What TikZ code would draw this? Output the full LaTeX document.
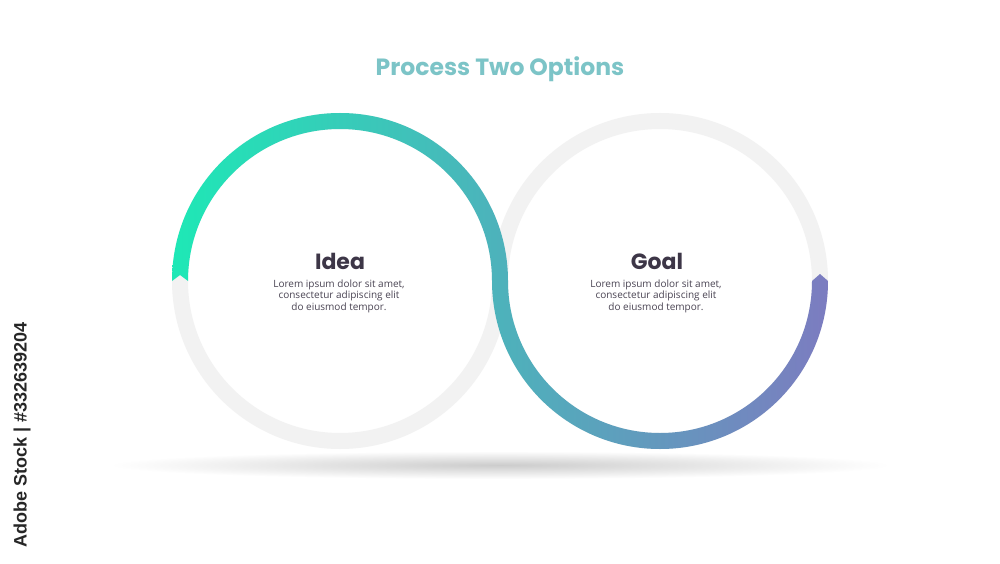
\documentclass[tikz,border=0pt]{standalone}
\usepackage{fontspec}
\setmainfont{Open Sans}
\newfontfamily\headfont{Poppins}
\newfontfamily\markfont{Liberation Sans}
\definecolor{ringgray}{RGB}{242,242,242}
\definecolor{titlecol}{RGB}{124,196,199}
\definecolor{headcol}{RGB}{61,54,71}
\definecolor{bodycol}{RGB}{74,68,83}
\definecolor{gA}{RGB}{30,232,182}
\definecolor{gB}{RGB}{66,172,185}
\definecolor{gC}{RGB}{124,124,192}
\begin{document}
\begin{tikzpicture}[x=1pt,y=1pt,
  ring/.style={draw=ringgray,line width=16pt},
  headtxt/.style={font=\headfont\bfseries\fontsize{22}{24}\selectfont,text=headcol},
  bodytxt/.style={font=\fontsize{10}{11.5}\selectfont,text=bodycol,align=center},
  titletxt/.style={font=\headfont\bfseries\fontsize{23.5}{26}\selectfont,text=titlecol}]
\useasboundingbox (0,0) rectangle (1000,563);
\fill[white] (0,0) rectangle (1000,563);
% shadow
\shade[inner color=black!20,outer color=white] (500,98) ellipse (390 and 14);
% background rings
\coordinate (cl) at (340,282);
\coordinate (cr) at (660,282);
\draw[ring] (cl) circle (160);
\draw[ring] (cr) circle (160);
% coloured path
\begin{scope}
\clip (172,282) arc[start angle=180,end angle=0,radius=168]
  arc[start angle=180,end angle=360,radius=152]
  -- (820,289) -- (828,282)
  arc[start angle=0,end angle=-180,radius=168]
  arc[start angle=0,end angle=180,radius=152]
  -- (180,288) -- cycle;
\shade[left color=gA,middle color=gB,right color=gC] (172,100) rectangle (828,460);
\end{scope}
% texts
\node[titletxt] (title) at (500,494) {Process Two Options};
\node[headtxt] (idea) at (340,302) {Idea};
\node[bodytxt] (ideatxt) at (339,267) {Lorem ipsum dolor sit amet,\\consectetur adipiscing elit\\do eiusmod tempor.};
\node[headtxt] (goal) at (657,302) {Goal};
\node[bodytxt] (goaltxt) at (656,267) {Lorem ipsum dolor sit amet,\\consectetur adipiscing elit\\do eiusmod tempor.};
\node[rotate=90,font=\markfont\bfseries\fontsize{18}{18}\selectfont,text=black!85] (mark) at (22,128) {Adobe Stock | \#332639204};
\end{tikzpicture}
\end{document}
